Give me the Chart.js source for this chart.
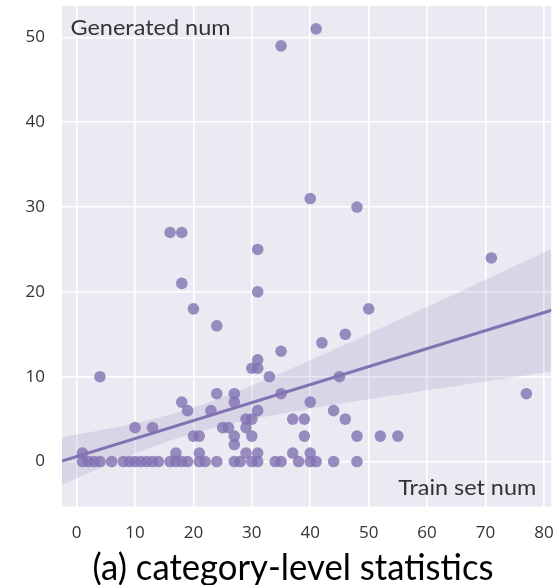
<!DOCTYPE html>
<html><head><meta charset="utf-8">
<script src="https://cdn.jsdelivr.net/npm/chart.js@4"></script>
<style>html,body{margin:0;padding:0;background:#fff;overflow:hidden}#wrap{width:557px;height:585px;position:relative}</style>
</head><body><div id="wrap"><canvas id="c" width="557" height="585"></canvas></div>
<script>
// ---- data ----
const trainNum = [
  1,2,3,4,6,8,9,10,11,12,13,14,16,17,18,19,21,22,24,27,28,30,31,34,35,38,40,41,44,48,
  1,17,21,29,31,37,40,
  27,
  20,21,27,30,39,48,52,55,
  10,13,25,26,29,
  29,30,37,39,46,
  19,23,31,44,
  18,27,40,
  24,27,35,77,
  4,33,45,
  30,31,
  31,35,42,46,24,
  20,50,
  31,18,71,31,
  16,18,
  48,40,35,41
];
const generatedNum = [
  0,0,0,0,0,0,0,0,0,0,0,0,0,0,0,0,0,0,0,0,0,0,0,0,0,0,0,0,0,0,
  1,1,1,1,1,1,1,
  2,
  3,3,3,3,3,3,3,3,
  4,4,4,4,4,
  5,5,5,5,5,
  6,6,6,6,
  7,7,7,
  8,8,8,8,
  10,10,10,
  11,11,
  12,13,14,15,16,
  18,18,
  20,21,24,25,
  27,27,
  30,31,49,51
];
const xTicks = [0,10,20,30,40,50,60,70,80];
const yTicks = [0,10,20,30,40,50];
const fitX = [-2.5, 82];
const fitY = [0.07, 17.98];
const bandX     = [-2.5, 0, 10, 20, 30, 40, 50, 60, 70, 82];
const bandUpper = [2.87, 3.17, 4.51, 6.37, 8.96, 11.95, 15.07, 18.24, 21.44, 25.29];
const bandLower = [-2.73, -1.97, 0.93, 3.31, 4.96, 6.21, 7.33, 8.40, 9.44, 10.67];
const yLabel = 'Generated num';
const xLabel = 'Train set num';
const caption = '(a) category-level statistics';

// ---- styling ----
const PURPLE = 'rgb(129,114,178)';
const TEXT = '#333';

function fitText(ctx, text, x, y, size, family, targetW, align, color) {
  ctx.save();
  ctx.font = size + 'px ' + family;
  const w = ctx.measureText(text).width;
  const sx = targetW / w;
  ctx.translate(x, y);
  ctx.scale(sx, 1);
  ctx.textAlign = align;
  ctx.textBaseline = 'alphabetic';
  ctx.fillStyle = color;
  ctx.fillText(text, 0, 0);
  ctx.restore();
}

const bgPlugin = {
  id: 'bg',
  beforeDraw(chart) {
    const {ctx, chartArea: a} = chart;
    ctx.save();
    ctx.fillStyle = '#EAEAF2';
    ctx.fillRect(a.left, a.top, a.right - a.left, a.bottom - a.top);
    ctx.restore();
  }
};
const textPlugin = {
  id: 'labels',
  afterDraw(chart) {
    const {ctx, chartArea: a} = chart;
    fitText(ctx, yLabel, a.left + 8.5, a.top + 29, 22, 'Lato', 160, 'left', TEXT);
    fitText(ctx, xLabel, a.right - 15, a.bottom - 11.5, 22, 'Lato', 138, 'right', TEXT);
    fitText(ctx, caption, 293, 580, 36, 'Lato', 401, 'center', '#000');
  }
};

const points = trainNum.map((x, i) => ({x, y: generatedNum[i]}));

new Chart(document.getElementById('c'), {
  type: 'scatter',
  data: {
    datasets: [
      {
        data: points,
        backgroundColor: 'rgba(129,114,178,0.8)',
        borderWidth: 0,
        pointRadius: 5.8,
        pointHoverRadius: 5.8
      },
      {
        data: fitX.map((x, i) => ({x, y: fitY[i]})),
        showLine: true,
        borderColor: PURPLE,
        borderWidth: 3,
        pointRadius: 0,
        fill: false
      },
      {
        data: bandX.map((x, i) => ({x, y: bandUpper[i]})),
        showLine: true,
        borderWidth: 0,
        borderColor: 'rgba(0,0,0,0)',
        pointRadius: 0,
        tension: 0.4,
        fill: '+1',
        backgroundColor: 'rgba(129,114,178,0.17)'
      },
      {
        data: bandX.map((x, i) => ({x, y: bandLower[i]})),
        showLine: true,
        borderWidth: 0,
        borderColor: 'rgba(0,0,0,0)',
        pointRadius: 0,
        tension: 0.4,
        fill: false
      }
    ]
  },
  options: {
    responsive: false,
    animation: false,
    events: [],
    layout: {padding: {top: 6, right: 0, bottom: 0, left: 0}},
    plugins: {legend: {display: false}, tooltip: {enabled: false}},
    scales: {
      x: {
        type: 'linear', min: -2.5, max: 81.25,
        afterBuildTicks(s) { s.ticks = xTicks.map(v => ({value: v})); },
        afterFit(s) { s.height = 78.5; s.paddingLeft = 0; s.paddingRight = 0; },
        grid: {color: '#fff', lineWidth: 1.6, drawTicks: false},
        border: {display: false},
        ticks: {font: {family: '"Open Sans"', size: 17}, color: TEXT, padding: 16, maxRotation: 0}
      },
      y: {
        type: 'linear', min: -5.3, max: 53.7,
        afterBuildTicks(s) { s.ticks = yTicks.map(v => ({value: v})); },
        afterFit(s) { s.width = 62; s.paddingTop = 0; s.paddingBottom = 0; },
        grid: {color: '#fff', lineWidth: 1.6, drawTicks: false},
        border: {display: false},
        ticks: {font: {family: '"Open Sans"', size: 17}, color: TEXT, padding: 17}
      }
    }
  },
  plugins: [bgPlugin, textPlugin]
});
</script>
</body></html>
